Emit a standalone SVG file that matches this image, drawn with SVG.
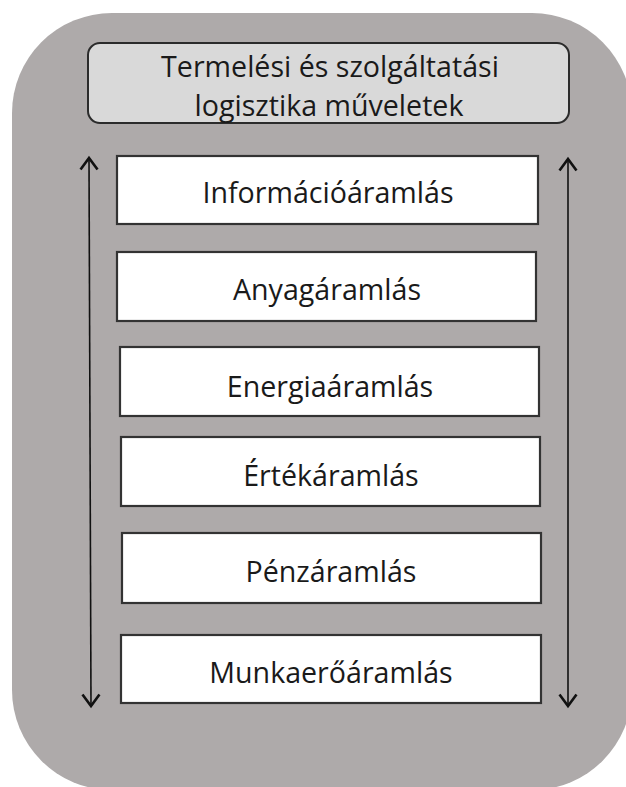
<svg xmlns="http://www.w3.org/2000/svg" width="626" height="787" viewBox="0 0 626 787">
  <defs>
    <style>
      .frame { fill: #aeaaaa; }
      .title { fill: #d9d9d9; stroke: #2b2b2b; stroke-width: 2; }
      .flow { fill: #ffffff; stroke: #333333; stroke-width: 2.2; }
      .label { font-family: "Open Sans", "Noto Sans", sans-serif; font-size: 28.6px; fill: #1a1a1a; text-anchor: middle; }
      .axis { stroke: #111111; stroke-width: 1.6; fill: none; }
    </style>
    <!-- open V arrowhead, pointing along the path direction -->
    <marker id="head" viewBox="0 0 16 20" refX="13" refY="10" markerWidth="16" markerHeight="20" markerUnits="userSpaceOnUse" orient="auto-start-reverse">
      <path d="M1.5,1.5 L13,10 L1.5,18.5" fill="none" stroke="#111111" stroke-width="2.6" stroke-linejoin="miter"/>
    </marker>
  </defs>

  <!-- background panel -->
  <rect class="frame" x="12" y="13" width="620" height="777" rx="100" ry="100"/>

  <!-- heading -->
  <g id="heading">
    <rect class="title" x="88" y="43" width="481" height="80" rx="12" ry="12"/>
    <text class="label" x="330" y="77">Termelési és szolgáltatási</text>
    <text class="label" x="329" y="116">logisztika műveletek</text>
  </g>

  <!-- flow boxes -->
  <g id="informacio">
    <rect class="flow" x="117" y="156" width="421" height="68"/>
    <text class="label" x="328" y="203">Információáramlás</text>
  </g>
  <g id="anyag">
    <rect class="flow" x="117" y="252" width="419" height="69"/>
    <text class="label" x="327" y="300">Anyagáramlás</text>
  </g>
  <g id="energia">
    <rect class="flow" x="120" y="347" width="419" height="69"/>
    <text class="label" x="330" y="397">Energiaáramlás</text>
  </g>
  <g id="ertek">
    <rect class="flow" x="121" y="437" width="419" height="69"/>
    <text class="label" x="331" y="486">Értékáramlás</text>
  </g>
  <g id="penz">
    <rect class="flow" x="122" y="533" width="419" height="70"/>
    <text class="label" x="331" y="582">Pénzáramlás</text>
  </g>
  <g id="munkaero">
    <rect class="flow" x="121" y="635" width="420" height="68"/>
    <text class="label" x="331" y="683">Munkaerőáramlás</text>
  </g>

  <!-- two-way arrows on both sides -->
  <g id="connectors">
    <line class="axis" x1="89" y1="158" x2="91" y2="706" marker-start="url(#head)" marker-end="url(#head)"/>
    <line class="axis" x1="568" y1="159" x2="568" y2="706" marker-start="url(#head)" marker-end="url(#head)"/>
  </g>
</svg>
